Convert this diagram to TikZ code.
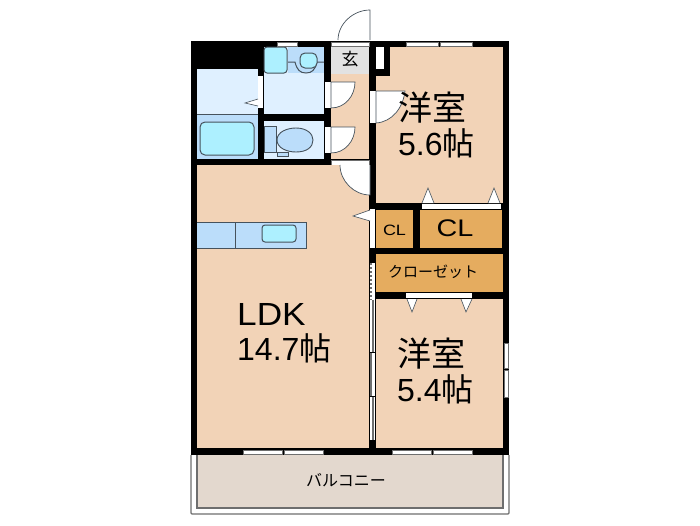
\documentclass[tikz,border=0pt]{standalone}
\usepackage{fontspec}
\usepackage{graphicx}
\setmainfont{Liberation Sans}
\newfontfamily\cjk{Noto Sans CJK JP}
\usepackage{xcolor}
\definecolor{floorcol}{HTML}{F2D3B7}
\definecolor{closetcol}{HTML}{E5AC5F}
\definecolor{palecol}{HTML}{DFF0FF}
\definecolor{midcol}{HTML}{BBDDFA}
\definecolor{aquacol}{HTML}{ADF0FF}
\definecolor{entrycol}{HTML}{E2E2E2}
\definecolor{balconycol}{HTML}{E3D8CE}
\definecolor{linecol}{HTML}{46525C}
\definecolor{framecol}{HTML}{6E6E6E}
\tikzset{
    room/.style = {fill=floorcol, draw=none},
    closet/.style = {fill=closetcol, draw=none},
    pale-room/.style = {fill=palecol, draw=none},
    mid-room/.style = {fill=midcol, draw=none},
    fitting/.style = {fill=aquacol, draw=linecol, line width=1pt, rounded corners=3pt},
    fixture/.style = {fill=midcol, draw=linecol, line width=0.9pt},
    door-swing/.style = {fill=white, draw=linecol, line width=0.7pt},
    opening/.style = {fill=white, draw=none},
    window/.style = {fill=white, draw=framecol, line width=0.8pt},
    marker/.style = {fill=white, draw=linecol, line width=0.6pt},
    big-label/.style = {font=\fontsize{32}{35}\selectfont, align=left, anchor=west, inner sep=0pt, text=black},
    small-label/.style = {font=\fontsize{15}{17}\selectfont\cjk, inner sep=0pt, text=black},
}
\begin{document}
\begin{tikzpicture}[x=1pt,y=-1pt]
\useasboundingbox (0,0) rectangle (700,525);
% balcony frame
\draw[framecol, line width=1.2pt, fill=white, rounded corners=1pt] (191,455) -- (191,514) -- (509,514) -- (509,455);
\draw[framecol, line width=1.2pt, fill=balconycol] (197,455) -- (197,508) -- (503,508) -- (503,455);
% walls
\fill[black] (191,41) rectangle (509,455);
% bath side
\fill[pale-room] (197,69) rectangle (258,114);
\fill[mid-room] (197,114) rectangle (258,159);
\draw[linecol, line width=1pt] (197,114) -- (258,114);
\draw[fitting, rounded corners=5pt] (200,122) rectangle (254,155);
\fill[pale-room] (264,47) rectangle (324,114);
\fill[mid-room] (288,47) rectangle (324,73);
\draw[fitting] (264,47) rectangle (287,73);
\draw[linecol, line width=1pt] (288,62) -- (295,62) .. controls (297,70) and (300,73) .. (306,73) .. controls (312,73) and (315,70) .. (317,62) -- (324,62);
\draw[fitting, rounded corners=5pt] (300,53) rectangle (317,68);
\fill[pale-room] (264,121) rectangle (324,159);
\draw[fixture] (264,126) rectangle (276,152);
\draw[fixture] (277,140) .. controls (277,132) and (287,128) .. (296,128) .. controls (307,128) and (313,134) .. (313,140) .. controls (313,147) and (307,152) .. (296,152) .. controls (287,152) and (277,148) .. (277,140) -- cycle;
\draw[fixture] (277,152) rectangle (288,156);
\fill[opening] (258,76) rectangle (263,108);
\draw[marker] (258,99) -- (245,103) -- (258,106);
% corridor
\fill[room] (331,74) rectangle (369,159);
\fill[entrycol] (331,47) rectangle (369,74);
\fill[opening] (331,42) rectangle (369,46);
\draw[framecol, line width=0.6pt] (331,42) rectangle (369,46);
\fill[opening] (325,82) rectangle (331,108);
\fill[opening] (325,127) rectangle (331,153);
\draw[door-swing] (331,82) -- (355,82) .. controls (355,96) and (345,108) .. (331,108) -- cycle;
\draw[door-swing] (331,127) -- (355,127) .. controls (355,141) and (345,153) .. (331,153) -- cycle;
\draw[door-swing, fill=white] (370,40) -- (370,10) .. controls (353,10) and (338,24) .. (338,40);
\fill[opening] (331,160) rectangle (369,165);
\draw[framecol, line width=0.6pt] (331,160) rectangle (369,165);
% ldk
\fill[room] (197,165) rectangle (369,448);
\draw[door-swing] (370,165) -- (370,195) .. controls (354,195) and (340,181) .. (340,165);
\draw[fixture] (197,222) -- (306,222) -- (306,248) -- (197,248);
\draw[linecol, line width=0.9pt] (235,222) -- (235,248);
\draw[fitting, rounded corners=3pt] (262,225) rectangle (296,242);
% north room
\fill[room] (376,47) rectangle (503,203);
\fill[black] (369,47) rectangle (390,76);
\fill[opening] (376,47) rectangle (384,69);
\fill[opening] (370,91) rectangle (376,123);
\draw[door-swing] (376,91) -- (405,91) .. controls (403,108) and (392,122) .. (376,123) -- cycle;
% closets
\fill[closet] (376,210) rectangle (413,248);
\fill[closet] (420,210) rectangle (502,248);
\fill[closet] (376,254) rectangle (503,292);
\fill[opening] (370,209) rectangle (375,248);
\draw[marker] (370,210) -- (353,216) -- (370,221);
\fill[opening] (422,204) rectangle (501,209);
\draw[marker] (422,203) -- (428,188) -- (434,203);
\draw[marker] (488,203) -- (494,188) -- (500,203);
\fill[opening] (406,293) rectangle (472,298);
% south room
\fill[room] (376,299) rectangle (503,448);
\draw[marker] (407,299) -- (412,312) -- (417,299);
\draw[marker] (461,299) -- (466,312) -- (472,299);
% sliding doors to ldk
\fill[opening] (370,263) rectangle (375,440);
\draw[framecol, line width=1.2pt, dashed, dash pattern=on 2pt off 2pt] (371,263) -- (371,300);
\draw[framecol, line width=1.6pt] (373,300) -- (373,352) (371,352) -- (371,396) (373,396) -- (373,440);
\draw[black, line width=0.8pt] (369,352) -- (376,352) (369,396) -- (376,396);
% windows
\draw[window] (277,42) rectangle (297,46);
\draw[window] (406,42) rectangle (438,46);
\draw[window] (440,42) rectangle (472,46);
\draw[window] (243,450) rectangle (282,454);
\draw[window] (284,450) rectangle (323,454);
\draw[window] (392,450) rectangle (431,454);
\draw[window] (433,450) rectangle (472,454);
\draw[window] (504,343) rectangle (508,368);
\draw[window] (504,370) rectangle (508,397);
% labels
\node[small-label, font=\fontsize{17}{19}\selectfont\cjk] (entry-label) at (350,59) {玄};
\node[big-label] (north-label) at (398,125) {{\cjk\fontsize{34}{35}\selectfont 洋室}\\5.6{\cjk 帖}};
\node[big-label] (south-label) at (397,371) {{\cjk\fontsize{34}{35}\selectfont 洋室}\\5.4{\cjk 帖}};
\node[big-label] (ldk-label) at (237,333) {\scalebox{1.1}[1]{LDK}\\14.7{\cjk 帖}};
\node[font=\fontsize{15}{17}\selectfont, inner sep=0pt] (small-cl-label) at (394.5,230.5) {\scalebox{1.2}[1]{CL}};
\node[font=\fontsize{24}{28}\selectfont, inner sep=0pt] (big-cl-label) at (455,228) {\scalebox{1.2}[1]{CL}};
\node[small-label] (closet-label) at (433,272) {クローゼット};
\node[small-label, font=\fontsize{16}{18}\selectfont\cjk] (balcony-label) at (346,480) {バルコニー};
\end{tikzpicture}
\end{document}
